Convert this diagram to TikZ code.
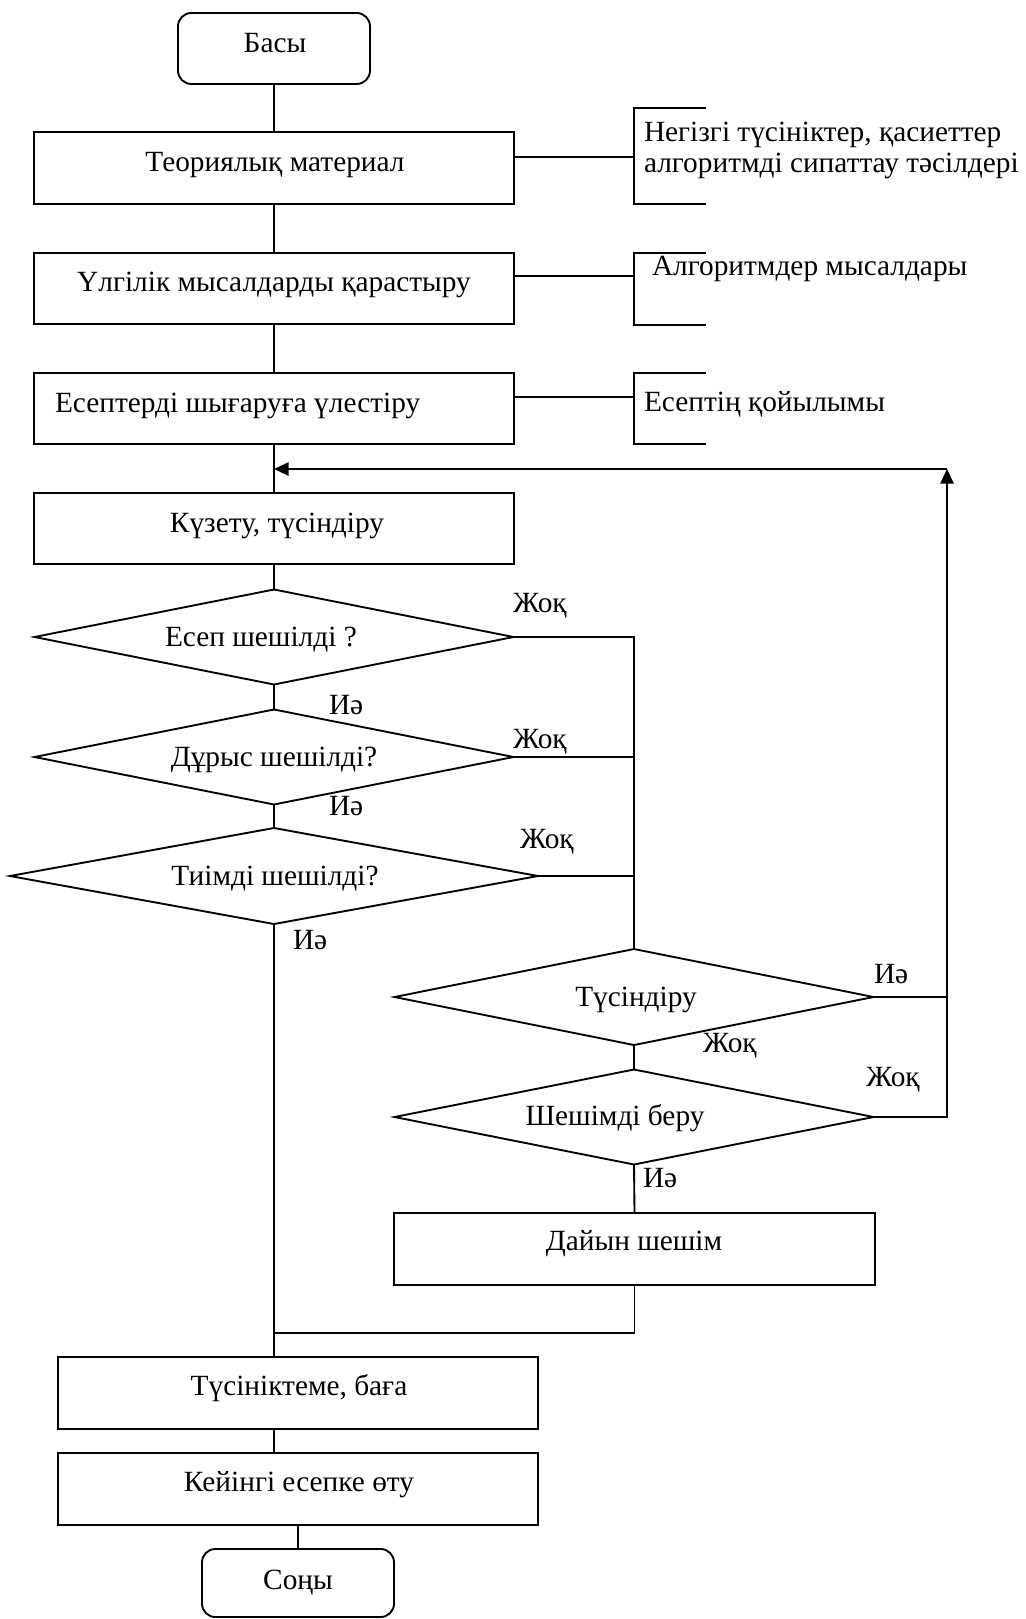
\documentclass[tikz,border=0pt]{standalone}
\usepackage{fontspec}
\setmainfont{Liberation Serif}
\usetikzlibrary{shapes.geometric,arrows.meta,fit}
\newcommand\unitpx{0.75pt}
\begin{document}
\begin{tikzpicture}[x=0.75pt,y=-0.75pt,
  line width=1.4pt,
  every node/.style={inner sep=0pt, outer sep=0pt},
  box/.style={draw, rectangle, fill=white},
  term/.style={draw, rectangle, rounded corners=10pt, fill=white},
  decision/.style={draw, diamond, fill=white, minimum width=479*\unitpx, minimum height=95*\unitpx},
  txt/.style={font=\fontsize{22}{26.4}\selectfont, anchor=base},
  ltxt/.style={font=\fontsize{22}{26.4}\selectfont, anchor=base west},
  arr/.style={-{Triangle[length=11pt,width=10pt]}}
]
\useasboundingbox (0,0) rectangle (1025,1619);

% terminals and process boxes
\node[term, fit={(178,13) (370,84)}] (start) {};
\node[box, fit={(34,132) (514,204)}] (b1) {};
\node[box, fit={(34,253) (514,324)}] (b2) {};
\node[box, fit={(34,373) (514,444)}] (b3) {};
\node[box, fit={(34,493) (514,564)}] (b4) {};
\node[box, fit={(394,1213) (875,1285)}] (b5) {};
\node[box, fit={(58,1357) (538,1429)}] (b6) {};
\node[box, fit={(58,1453) (538,1525)}] (b7) {};
\node[term, fit={(202,1549) (394,1617)}] (stop) {};

% decisions
\node[decision] (d1) at (274,637) {};
\node[decision] (d2) at (274,757) {};
\node[decision, minimum width=528*\unitpx, minimum height=96*\unitpx] (d3) at (274,876) {};
\node[decision, minimum height=96*\unitpx] (d4) at (634,997) {};
\node[decision] (d5) at (634,1117) {};

% junctions
\coordinate (j2) at (274,1333);
\coordinate (lp) at (947,469);
\coordinate (a1) at (634,157);
\coordinate (a2) at (634,276);
\coordinate (a3) at (634,397);

% annotation brackets
\draw (706,108) -- (634,108) -- (634,204) -- (706,204);
\draw (706,253) -- (634,253) -- (634,325) -- (706,325);
\draw (706,373) -- (634,373) -- (634,444) -- (706,444);
\draw (b1.east |- a1) -- (a1);
\draw (b2.east |- a2) -- (a2);
\draw (b3.east |- a3) -- (a3);

% main flow
\draw (start.south) -- (b1.north);
\draw (b1.south) -- (b2.north);
\draw (b2.south) -- (b3.north);
\draw (b3.south) -- (b4.north);
\draw (b4.south) -- (d1.north);
\draw (d1.south) -- (d2.north);
\draw (d2.south) -- (d3.north);
\draw (d3.south) -- (j2) -- (j2 |- b6.north);
\draw (b6.south -| j2) -- (b7.north -| j2);
\draw (b7.south) -- (stop.north);

% "no" branches into the help block
\draw (d1.east) -- (d1.east -| d4.north) -- (d4.north);
\draw (d2.east) -- (d2.east -| d4.north);
\draw (d3.east) -- (d3.east -| d4.north);
\draw (d4.south) -- (d5.north);
\draw (d5.south) -- (b5.north);
\draw (b5.south) -- (b5.south |- j2) -- (j2);

% return loop
\draw (d4.east) -- (d4.east -| lp);
\draw[arr] (d5.east) -- (d5.east -| lp) -- (lp);
\draw[arr] (lp) -- (lp -| b4.north);

% box texts
\node[txt] (t0) at (275,53) {Басы};
\node[txt] (t1) at (275,172) {Теориялық материал};
\node[txt] (t2) at (274,292) {Үлгілік мысалдарды қарастыру};
\node[ltxt] (t3) at (55,412) {Есептерді шығаруға үлестіру};
\node[txt] (t4) at (277,532) {Күзету, түсіндіру};
\node[ltxt] (t5) at (165,646) {Есеп шешілді ?};
\node[txt] (t6) at (274,766) {Дұрыс шешілді?};
\node[txt] (t7) at (275,885) {Тиімді шешілді?};
\node[txt] (t8) at (636,1006) {Түсіндіру};
\node[txt] (t9) at (615,1125) {Шешімді беру};
\node[txt] (t10) at (634,1250) {Дайын шешім};
\node[txt] (t11) at (299,1395) {Түсініктеме, баға};
\node[txt] (t12) at (299,1491) {Кейінгі есепке өту};
\node[txt] (t13) at (298,1589) {Соңы};

% annotation texts
\node[ltxt] (n1) at (644,142) {Негізгі түсініктер, қасиеттер};
\node[ltxt] (n2) at (644,173) {алгоритмді сипаттау тәсілдері};
\node[ltxt] (n3) at (652,276) {Алгоритмдер мысалдары};
\node[ltxt] (n4) at (644,411) {Есептің қойылымы};

% branch labels
\node[ltxt] (l1) at (513,612) {Жоқ};
\node[ltxt] (l2) at (329,714) {Иә};
\node[ltxt] (l3) at (513,748) {Жоқ};
\node[ltxt] (l4) at (329,815) {Иә};
\node[ltxt] (l5) at (520,848) {Жоқ};
\node[ltxt] (l6) at (293,949) {Иә};
\node[ltxt] (l7) at (874,983) {Иә};
\node[ltxt] (l8) at (703,1052) {Жоқ};
\node[ltxt] (l9) at (866,1086) {Жоқ};
\node[ltxt] (l10) at (643,1187) {Иә};
\end{tikzpicture}
\end{document}
